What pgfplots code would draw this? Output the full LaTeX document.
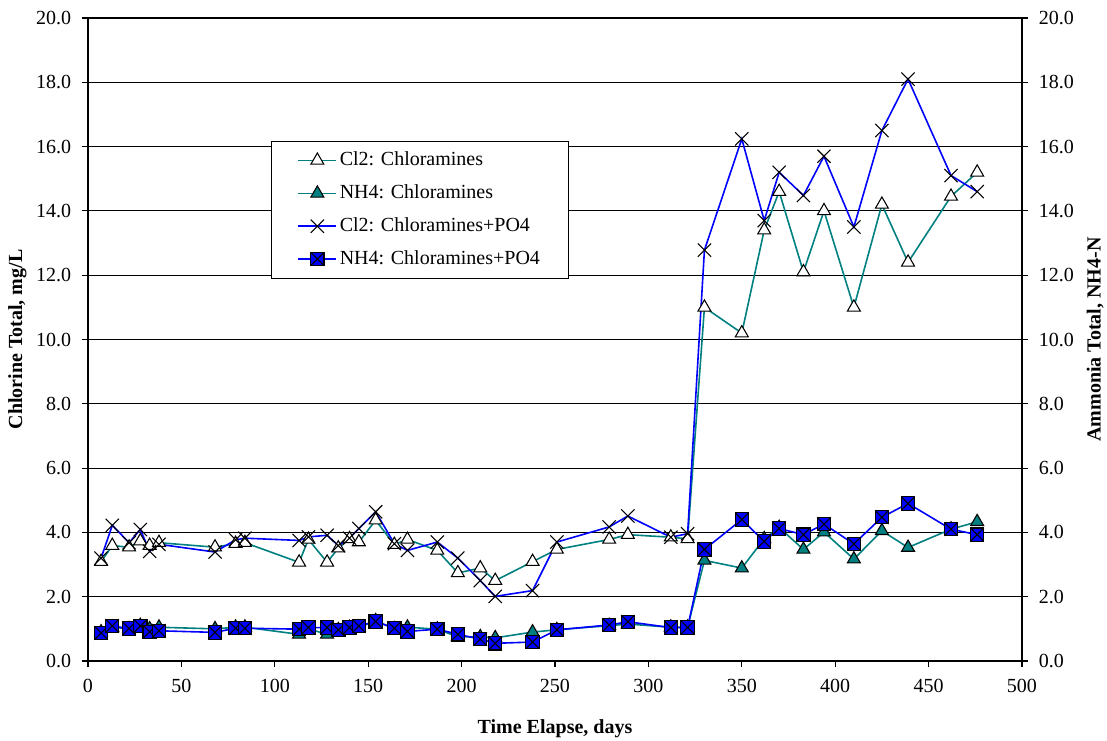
\documentclass[border=0pt]{standalone}
\usepackage{pgfplots}
\pgfplotsset{compat=1.18}
\usepackage{fontspec}
\setmainfont{Liberation Serif}
\definecolor{tealc}{RGB}{0,128,128}
\definecolor{bluec}{RGB}{0,0,255}
\pgfdeclareplotmark{squarex}{%
  \pgfpathrectangle{\pgfqpoint{-\pgfplotmarksize}{-\pgfplotmarksize}}{\pgfqpoint{2\pgfplotmarksize}{2\pgfplotmarksize}}%
  \pgfusepathqfillstroke
  \pgfpathmoveto{\pgfqpoint{-\pgfplotmarksize}{-\pgfplotmarksize}}%
  \pgfpathlineto{\pgfqpoint{\pgfplotmarksize}{\pgfplotmarksize}}%
  \pgfpathmoveto{\pgfqpoint{-\pgfplotmarksize}{\pgfplotmarksize}}%
  \pgfpathlineto{\pgfqpoint{\pgfplotmarksize}{-\pgfplotmarksize}}%
  \pgfusepathqstroke
}
\pgfplotstableread{
x clA nhA clB nhB
7 3.09 0.90 3.20 0.87
13 3.59 1.05 4.22 1.09
22 3.54 1.00 3.68 1.01
28 3.73 1.10 4.09 1.09
33 3.59 1.00 3.41 0.91
38 3.68 1.05 3.63 0.94
68 3.54 1.00 3.39 0.89
79 3.65 1.05 3.77 1.02
84 3.68 1.05 3.82 1.02
113 3.07 0.83 3.75 0.99
118 3.78 1.00 3.86 1.04
128 3.07 0.83 3.91 1.04
134 3.51 0.97 3.59 0.97
140 3.80 1.04 3.82 1.04
145 3.70 1.05 4.12 1.09
154 4.38 1.25 4.64 1.23
164 3.62 1.00 3.65 1.02
171 3.78 1.05 3.44 0.92
187 3.44 0.99 3.70 0.99
198 2.74 0.75 3.20 0.83
210 2.89 0.75 2.50 0.68
218 2.50 0.72 2.01 0.55
238 3.09 0.90 2.19 0.59
251 3.47 0.97 3.70 0.97
279 3.78 1.10 4.17 1.12
289 3.93 1.15 4.51 1.22
312 3.85 1.05 3.85 1.04
321 3.80 1.05 3.96 1.04
330 11.00 3.13 12.78 3.47
350 10.20 2.89 16.24 4.40
362 13.40 3.80 13.70 3.72
370 14.60 4.15 15.20 4.12
383 12.10 3.47 14.48 3.93
394 14.00 4.01 15.70 4.26
410 11.00 3.17 13.50 3.64
425 14.20 4.05 16.50 4.47
439 12.40 3.53 18.10 4.90
462 14.45 4.10 15.10 4.10
476 15.20 4.33 14.60 3.93
}\data
\begin{document}
\fontsize{15}{18}\selectfont
\begin{tikzpicture}
\useasboundingbox (-66pt,-59.25pt) rectangle (764.25pt,495.75pt);
\pgfplotsset{
  common/.style={
    scale only axis, width=700.5pt, height=482.25pt,
    xmin=0, xmax=500, ymin=0, ymax=20,
    ytick={0,2,...,20},
    tick align=outside, major tick length=4.5pt,
    tick style={black, line width=0.8pt},
    axis line style={black, line width=0.9pt},
    /pgf/number format/assume math mode=true,
    tick label style={font=\fontsize{15}{18}\selectfont},
    yticklabel style={/pgf/number format/fixed, /pgf/number format/fixed zerofill, /pgf/number format/precision=1},
  }
}
\begin{axis}[common,
  xtick={0,50,...,500},
  xtick pos=bottom, ytick pos=left,
  xticklabel style={/pgf/number format/fixed, yshift=-4pt},
  yticklabel style={xshift=-3pt},
  ymajorgrids, grid style={black, line width=0.8pt},
  xlabel={Time Elapse, days},
  ylabel={Chlorine Total, mg/L},
  every axis x label/.style={at={(rel axis cs:0.5,0)}, yshift=-51pt, anchor=center, font=\fontsize{15}{18}\selectfont\bfseries},
  every axis y label/.style={at={(rel axis cs:0,0.5)}, xshift=-53pt, rotate=90, anchor=center, font=\fontsize{15}{18}\selectfont\bfseries},
  legend style={at={(0.196,0.809)}, anchor=north west, draw=black, line width=0.8pt,
    font=\fontsize{15}{18}\selectfont, row sep=8pt, inner xsep=19.5pt, inner ysep=6pt,
    cells={anchor=west}},
  legend cell align=left,
  every axis legend/.append style={legend image code/.code={%
    \draw[mark repeat=2,mark phase=2] plot coordinates {(0cm,0cm) (0.5cm,0cm) (1cm,0cm)};}},
]
\addplot[tealc, line width=1.2pt, mark=triangle*, mark size=5.6pt,
  mark options={fill=white, draw=black, line width=0.8pt, solid}] table[x=x, y=clA] {\data};
\addlegendentry{Cl2: Chloramines}
\addplot[tealc, line width=1.2pt, mark=triangle*, mark size=5.6pt,
  mark options={fill=tealc, draw=black, line width=0.8pt, solid}] table[x=x, y=nhA] {\data};
\addlegendentry{NH4: Chloramines}
\addplot[bluec, line width=1.2pt, mark=x, mark size=7pt,
  mark options={draw=black, line width=0.8pt, solid}] table[x=x, y=clB] {\data};
\addlegendentry{Cl2: Chloramines+PO4}
\addplot[bluec, line width=1.2pt, mark=squarex, mark size=5pt,
  mark options={fill=bluec, draw=black, line width=0.8pt, solid}] table[x=x, y=nhB] {\data};
\addlegendentry{NH4: Chloramines+PO4}
\end{axis}
\begin{axis}[common,
  axis x line=none,
  axis y line*=right,
  ytick pos=right,
  yticklabel style={xshift=3pt},
  ylabel={Ammonia Total, NH4-N},
  every axis y label/.style={at={(rel axis cs:1,0.5)}, xshift=55pt, rotate=90, anchor=center, font=\fontsize{15}{18}\selectfont\bfseries},
]
\addplot[draw=none, forget plot] coordinates {(0,0)};
\end{axis}
\end{tikzpicture}
\end{document}
